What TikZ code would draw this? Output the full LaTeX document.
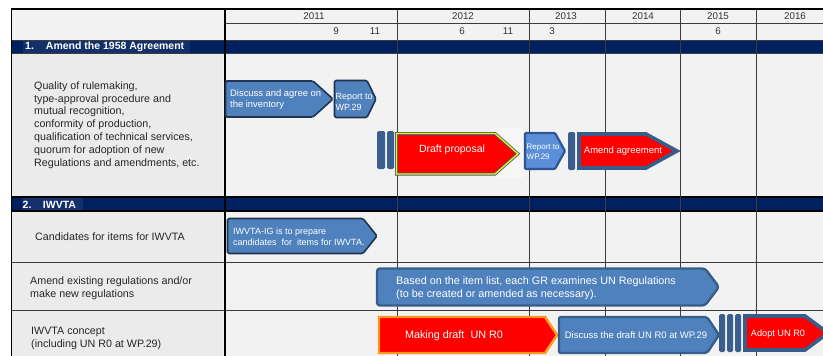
\documentclass[tikz,border=0pt]{standalone}
\usepackage{fontspec}
\setmainfont{Liberation Sans}
\definecolor{navy}{HTML}{002060}
\definecolor{navyhi}{HTML}{14306A}
\definecolor{tlbg}{HTML}{F2F2F2}
\definecolor{lcbg}{HTML}{EBEBEB}
\definecolor{stepblue}{HTML}{4F81BD}
\definecolor{stepedge}{HTML}{385D8A}
\definecolor{darkedge}{HTML}{1F3450}
\definecolor{lightblue}{HTML}{5B8FD8}
\definecolor{lightedge}{HTML}{2F5597}
\definecolor{barblue}{HTML}{3A5F8E}
\definecolor{gridline}{HTML}{3C3C3C}
\definecolor{orangeedge}{HTML}{FF7F27}
\definecolor{goldedge}{HTML}{FFC000}
\newcommand\pentshape[6]{\path[#1] (#2,#3) -- (#6,#3) -- (#4,{(#3+#5)/2}) -- (#6,#5) -- (#2,#5) -- cycle;}
\tikzset{
  blueshape/.style={fill=stepblue, draw=darkedge, line width=1.6pt, line join=round, rounded corners=1.5pt},
  bluesoft/.style={fill=stepblue, draw=stepedge, line width=2.4pt, line join=round, rounded corners=2pt},
  lightshape/.style={fill=lightblue, draw=lightedge, line width=2.2pt, line join=round, rounded corners=1pt},
  redthick/.style={fill=red, draw=stepedge, line width=3.6pt, line join=miter},
  barstyle/.style={fill=barblue, rounded corners=1.5pt},
  steptext/.style={text=white, align=left, inner sep=0pt},
  celltext/.style={text=black!85, align=left, inner sep=0pt, font=\fontsize{10.7}{12.8}\selectfont},
  bandtext/.style={text=white, inner sep=0pt, anchor=west, font=\fontsize{10.5}{12}\selectfont\bfseries},
  headtext/.style={text=black!80, inner sep=0pt, font=\fontsize{9.8}{11}\selectfont},
  hline/.style={draw=gridline, line width=0.9pt},
  vline/.style={draw=gridline, line width=0.9pt}
}
\begin{document}
\begin{tikzpicture}[x=1pt,y=-1pt]
\useasboundingbox[fill=white] (0,0) rectangle (823,356);
% backgrounds
\fill[tlbg] (11,8.5) rectangle (823,356);
\fill[lcbg] (11,53) rectangle (223,197);
\fill[lcbg] (11,211) rectangle (223,356);
% bands
\fill[navy] (11,40) rectangle (823,53);
\fill[navy] (11,197) rectangle (823,211);
\fill[navyhi] (23,41) rectangle (190,53);
\fill[navyhi] (22,198) rectangle (83,211);
% horizontal lines
\draw[hline] (225,23) -- (823,23);
\draw[hline] (11,40) -- (823,40);
\draw[hline] (11,53) -- (823,53);
\draw[black, line width=1.2pt] (11,197) -- (823,197);
\draw[black, line width=1.2pt] (11,211) -- (823,211);
\draw[hline] (11,262) -- (823,262);
\draw[hline] (11,310) -- (823,310);
% vertical lines
\foreach \xx in {397.5,529,605.5,680.5,756} {\draw[vline] (\xx,8.5) -- (\xx,356);}
\draw[black, line width=2pt] (224.5,8.5) -- (224.5,356);
\draw[black, line width=1.2pt] (11.6,8.5) -- (11.6,356);
\draw[black, line width=2pt] (11,8.5) -- (823,8.5);
% header text
\node[headtext] (y2011) at (314,16) {2011};
\node[headtext] (y2012) at (463,16) {2012};
\node[headtext] (y2013) at (566,16) {2013};
\node[headtext] (y2014) at (643,16) {2014};
\node[headtext] (y2015) at (718,16) {2015};
\node[headtext] (y2016) at (795,16) {2016};
\node[headtext] (m9) at (336,31.5) {9};
\node[headtext] (m11a) at (375,31.5) {11};
\node[headtext] (m6a) at (462,31.5) {6};
\node[headtext] (m11b) at (508,31.5) {11};
\node[headtext] (m3) at (552,31.5) {3};
\node[headtext] (m6b) at (718,31.5) {6};
% band labels
\node[bandtext] (band1) at (25,47) {1.\hspace{12pt}Amend the 1958 Agreement};
\node[bandtext] (band2) at (22.5,204.5) {2.\hspace{11.5pt}IWVTA};
% left cells
\node[celltext, anchor=west] (quality) at (34,125) {Quality of rulemaking,\\type-approval procedure and\\mutual recognition,\\conformity of production,\\qualification of technical services,\\quorum for adoption of new\\Regulations and amendments, etc.};
\node[celltext, anchor=west] (cand) at (35,237) {Candidates for items for IWVTA};
\node[celltext, anchor=west] (amendex) at (30,288) {Amend existing regulations and/or\\make new regulations};
\node[celltext, anchor=west] (concept) at (31,338.5) {IWVTA concept\\(including UN R0 at WP.29)};
% section 1 shapes
\pentshape{blueshape}{225.5}{81}{333}{117}{313}
\pentshape{blueshape}{334.5}{80.5}{376}{117.5}{367}
\fill[barstyle] (377,131) rectangle (385,169);
\fill[barstyle] (387,131) rectangle (394,169);
\fill[white!97!black] (495,128) rectangle (523,178);
\pentshape{fill=red, draw=stepedge, line width=3pt, line join=miter}{396.5}{133.5}{518}{174}{495}
\pentshape{draw=yellow, line width=1.3pt, line join=miter}{396.5}{133.5}{518}{174}{495}
\pentshape{lightshape}{525}{133}{565}{169}{555}
\fill[barstyle] (568,132) rectangle (575,170);
\pentshape{redthick}{579}{134}{677}{168}{646}
\node[steptext, anchor=west, font=\fontsize{9.4}{11}\selectfont] (discuss) at (230,99.5) {Discuss and agree on\\the inventory};
\node[steptext, anchor=west, font=\fontsize{9}{11}\selectfont] (report1) at (335.5,102) {Report to\\WP.29};
\node[steptext, font=\fontsize{10.5}{12}\selectfont] (draft) at (452,150) {Draft proposal};
\node[steptext, anchor=west, font=\fontsize{8}{10}\selectfont] (report2) at (526.5,152) {Report to\\WP.29};
\node[steptext, font=\fontsize{9.5}{11}\selectfont] (amend) at (623,151) {Amend agreement};
% section 2 shapes
\pentshape{blueshape}{227.5}{218.5}{377}{253.5}{363}
\node[steptext, anchor=west, font=\fontsize{9}{11}\selectfont] (iwvtaig) at (233,237) {IWVTA-IG is to prepare\\candidates\ \ for\ \ items for IWVTA.};
\pentshape{bluesoft, rounded corners=3pt}{377}{268.5}{719}{305.5}{705}
\node[steptext, anchor=west, font=\fontsize{10.8}{13}\selectfont] (based) at (396,288) {Based on the item list, each GR examines UN Regulations\\(to be created or amended as necessary).};
\pentshape{fill=red, draw=orangeedge, line width=2.4pt, line join=miter}{379}{317}{557}{353}{545}
\pentshape{draw=goldedge, line width=0.8pt, line join=miter}{379}{317}{557}{353}{545}
\node[steptext, font=\fontsize{10.8}{12}\selectfont] (making) at (454,335.5) {Making draft\ \ UN R0};
\pentshape{bluesoft}{559}{317}{719}{353}{707}
\node[steptext, font=\fontsize{9.5}{11}\selectfont] (discussdraft) at (636,335) {Discuss the draft UN R0 at WP.29};
\fill[barstyle] (719,314) rectangle (725,352);
\fill[barstyle] (727,314) rectangle (733,352);
\fill[barstyle] (735,314) rectangle (741,352);
\pentshape{redthick}{745}{316}{828}{350}{805}
\node[steptext, font=\fontsize{9.2}{11}\selectfont] (adopt) at (778,334) {Adopt UN R0};
\end{tikzpicture}
\end{document}
